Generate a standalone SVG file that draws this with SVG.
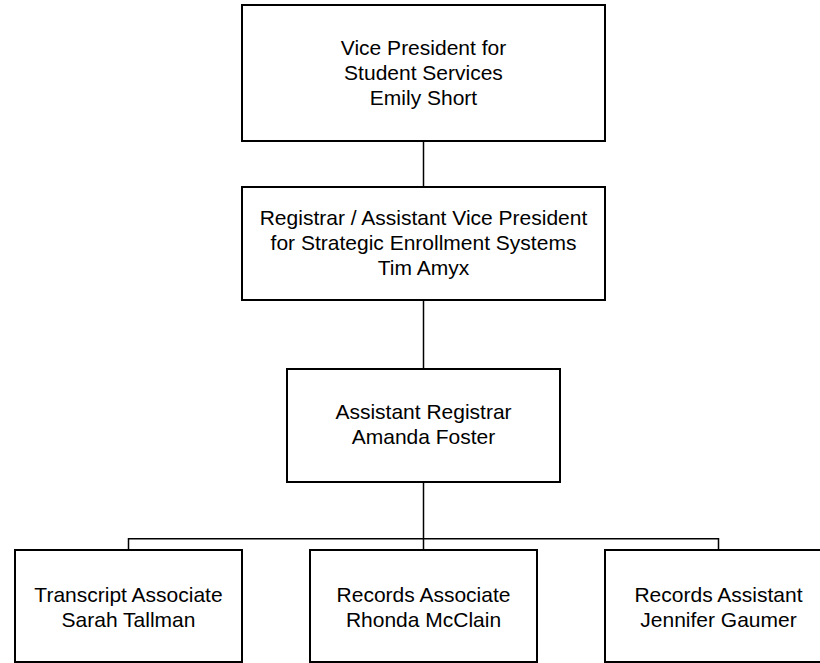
<svg xmlns="http://www.w3.org/2000/svg" width="820" height="663" viewBox="0 0 820 663">
<style>
.box{fill:#fff;stroke:#000;stroke-width:2}
.t{font-family:"Liberation Sans",Arial,sans-serif;font-size:21px;fill:#000;text-anchor:middle}
.c{fill:none;stroke:#000;stroke-width:1.5}
</style>
<rect width="820" height="663" fill="#fff"/>
<g id="connectors">
<line class="c" x1="423.5" y1="141" x2="423.5" y2="187"/>
<line class="c" x1="423.5" y1="300" x2="423.5" y2="369"/>
<line class="c" x1="423.5" y1="482" x2="423.5" y2="550"/>
<polyline class="c" points="128.5,550 128.5,538.7 718.5,538.7 718.5,550"/>
</g>
<g id="vp">
<rect class="box" x="242" y="5" width="363" height="136"/>
<text class="t" x="423.5" y="55">Vice President for</text>
<text class="t" x="423.5" y="80">Student Services</text>
<text class="t" x="423.5" y="105">Emily Short</text>
</g>
<g id="registrar">
<rect class="box" x="242" y="187" width="363" height="113"/>
<text class="t" x="423.5" y="225">Registrar / Assistant Vice President</text>
<text class="t" x="423.5" y="250">for Strategic Enrollment Systems</text>
<text class="t" x="423.5" y="275">Tim Amyx</text>
</g>
<g id="asst-registrar">
<rect class="box" x="287" y="369" width="273" height="113"/>
<text class="t" x="423.5" y="419">Assistant Registrar</text>
<text class="t" x="423.5" y="444">Amanda Foster</text>
</g>
<g id="transcript">
<rect class="box" x="15" y="550" width="227" height="112"/>
<text class="t" x="128.5" y="602">Transcript Associate</text>
<text class="t" x="128.5" y="627">Sarah Tallman</text>
</g>
<g id="records-associate">
<rect class="box" x="310" y="550" width="227" height="112"/>
<text class="t" x="423.5" y="602">Records Associate</text>
<text class="t" x="423.5" y="627">Rhonda McClain</text>
</g>
<g id="records-assistant">
<rect class="box" x="605" y="550" width="227" height="112"/>
<text class="t" x="718.5" y="602">Records Assistant</text>
<text class="t" x="718.5" y="627">Jennifer Gaumer</text>
</g>
</svg>
